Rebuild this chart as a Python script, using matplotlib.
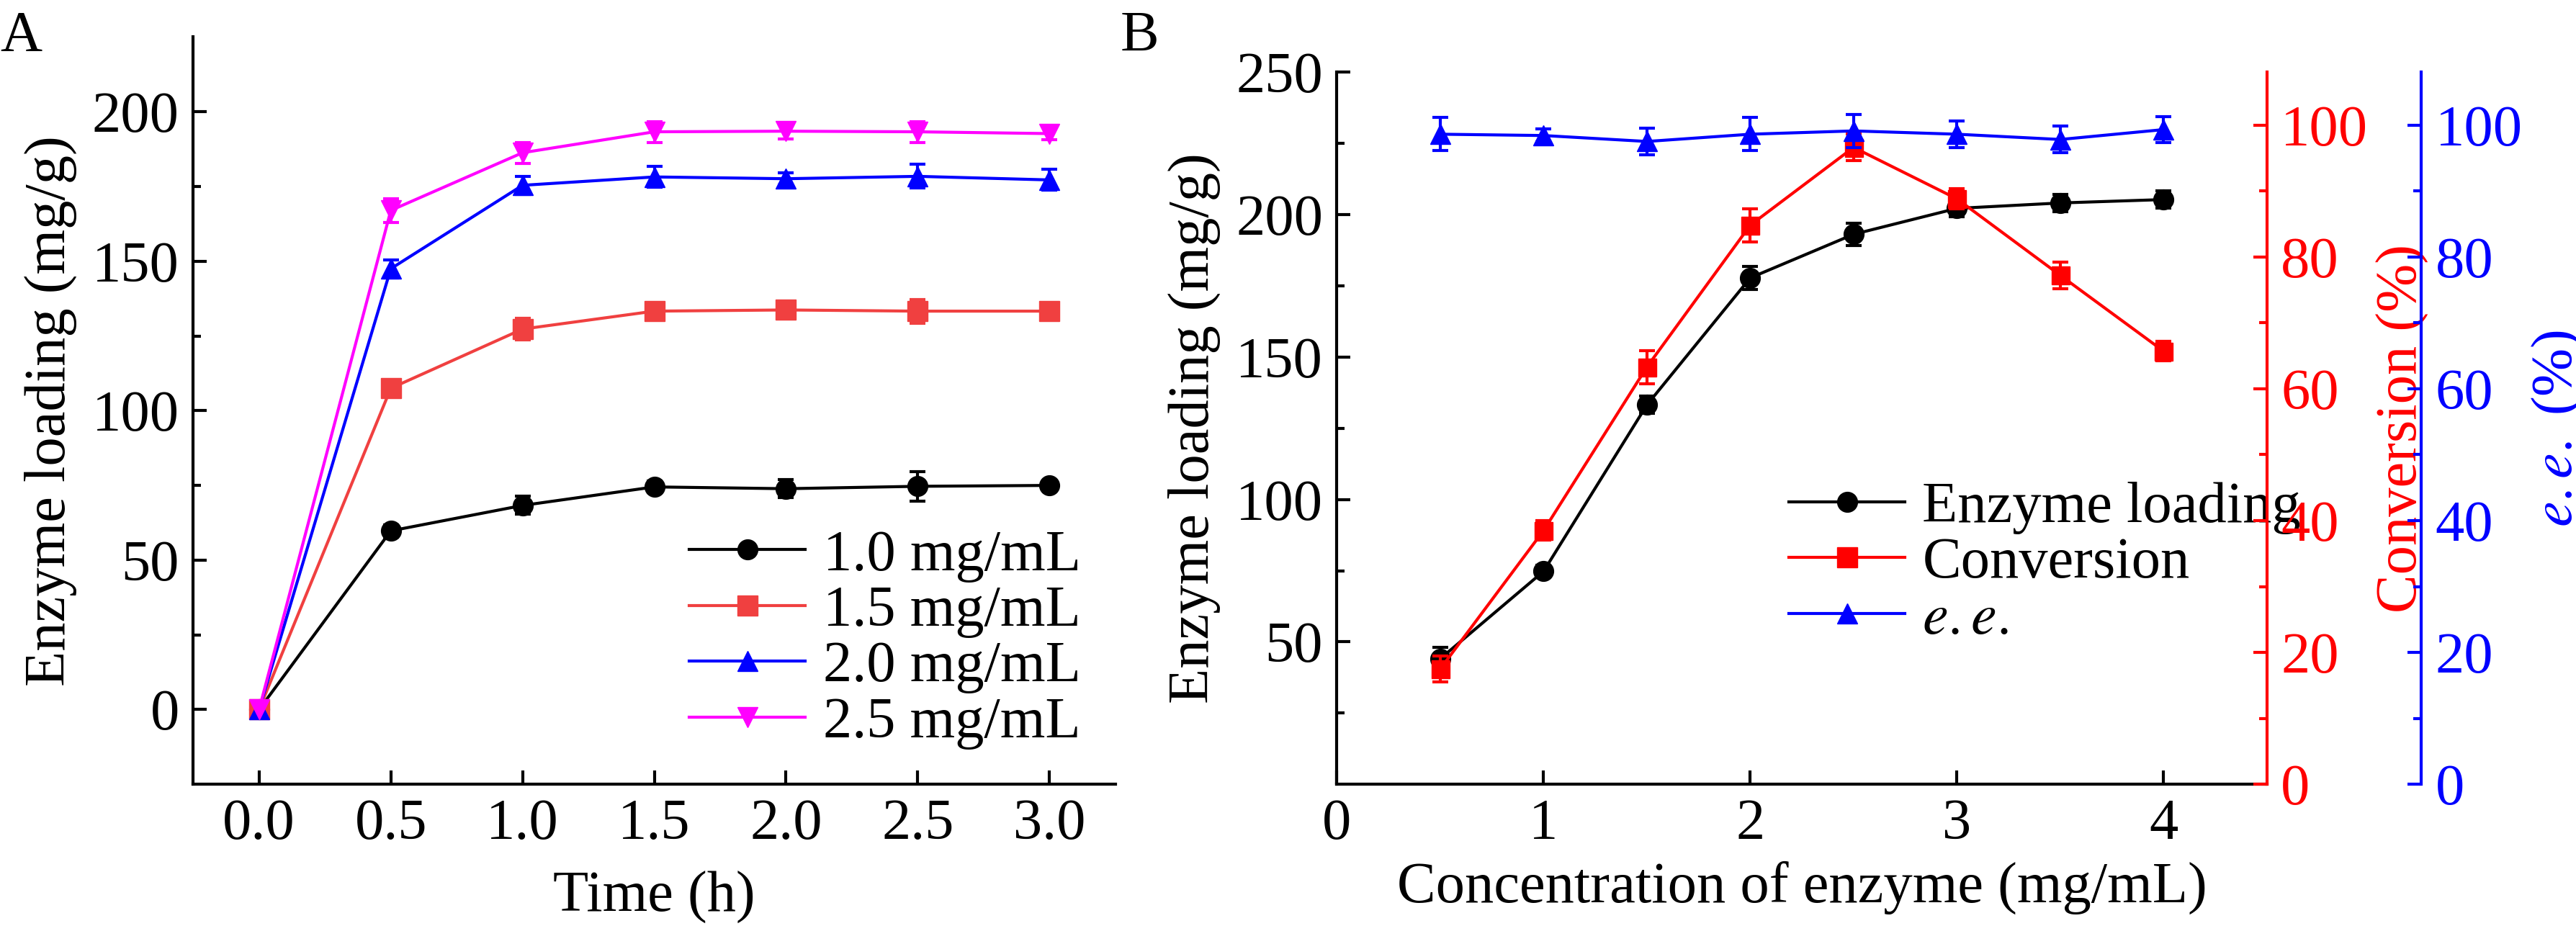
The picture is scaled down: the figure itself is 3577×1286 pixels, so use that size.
import matplotlib
matplotlib.use("Agg")
import matplotlib.pyplot as plt
from matplotlib.lines import Line2D

plt.rcParams["font.family"] = ["Liberation Serif", "DejaVu Serif"]
plt.rcParams["mathtext.fontset"] = "stix"

# ── Panel A data ──────────────────────────────────────────────────────────────
time_h = [0.0, 0.5, 1.0, 1.5, 2.0, 2.5, 3.0]
load_10 = [0, 59.8, 68.3, 74.5, 73.9, 74.7, 75.0]
load_15 = [0, 107.5, 127.3, 133.3, 133.7, 133.3, 133.3]
load_20 = [0, 147.5, 175.4, 178.2, 177.6, 178.4, 177.2]
load_25 = [0, 167.0, 186.3, 193.3, 193.5, 193.3, 192.7]
err_10 = [1, 2, 3, 2, 3, 5, 1.5]
err_15 = [1, 1.5, 3.5, 2, 2.5, 4, 2]
err_20 = [1, 3, 3, 3.5, 2, 4, 3.5]
err_25 = [1, 4, 3.5, 3.5, 2.5, 3.5, 2]

# ── Panel B data ──────────────────────────────────────────────────────────────
conc = [0.5, 1.0, 1.5, 2.0, 2.5, 3.0, 3.5, 4.0]
loading_b = [44.1, 74.8, 133.2, 177.8, 193.1, 202.2, 204.1, 205.3]
loading_b_err = [4, 2, 3, 4, 4, 3, 3, 3]
conversion = [17.5, 38.5, 63.3, 84.8, 96.6, 88.8, 77.2, 65.7]
conversion_err = [2, 1.5, 2.5, 2.5, 2, 1.5, 2, 1.5]
ee = [98.6, 98.4, 97.5, 98.6, 99.1, 98.6, 97.8, 99.3]
ee_err = [2.5, 1, 2, 2.5, 2.5, 2, 2, 2]

FS = 58


def handle(col, mk):
    return Line2D([], [], color=col, marker=mk, markersize=20, linewidth=3)


fig = plt.figure(figsize=(35.77, 12.86), dpi=100)

# ── Panel A ───────────────────────────────────────────────────────────────────
ax = fig.add_axes([0.075, 0.153, 0.358, 0.807])
series = [
    (load_10, err_10, "black", "o", "1.0 mg/mL"),
    (load_15, err_15, "#f04040", "s", "1.5 mg/mL"),
    (load_20, err_20, "blue", "^", "2.0 mg/mL"),
    (load_25, err_25, "magenta", "v", "2.5 mg/mL"),
]
for vals, errs, col, mk, lab in series:
    ax.errorbar(time_h, vals, yerr=errs, color=col, marker=mk, markersize=20,
                linewidth=3, elinewidth=3, capsize=8, capthick=3)
ax.set_xlim(-0.25, 3.25)
ax.set_ylim(-25, 225)
ax.set_xticks(time_h)
ax.set_xticklabels([f"{t:.1f}" for t in time_h])
ax.set_yticks([0, 50, 100, 150, 200])
ax.set_yticks([25, 75, 125, 175], minor=True)
ax.set_xlabel("Time (h)", fontsize=FS, labelpad=20)
ax.set_ylabel("Enzyme loading (mg/g)", fontsize=FS, labelpad=15)
ax.legend([handle(c, m) for _, _, c, m, _ in series], [s[4] for s in series],
          loc="lower right", frameon=False, fontsize=FS, handlelength=2,
          borderaxespad=0.2, labelspacing=0.05, handletextpad=0.3)
for s in ["top", "right"]:
    ax.spines[s].set_visible(False)
for s in ["left", "bottom"]:
    ax.spines[s].set_linewidth(3)
ax.tick_params(which="both", direction="in", width=3, labelsize=FS, pad=14)
ax.tick_params(which="major", length=14)
ax.tick_params(which="minor", length=8)
fig.text(0.0, 0.945, "A", fontsize=FS)

# ── Panel B ───────────────────────────────────────────────────────────────────
bx = fig.add_axes([0.519, 0.153, 0.361, 0.769])
rx = bx.twinx()
ex = bx.twinx()
ex.spines["right"].set_position(("axes", 1.166))

bx.errorbar(conc, loading_b, yerr=loading_b_err, color="black", marker="o",
            markersize=20, linewidth=3, elinewidth=3, capsize=8, capthick=3)
rx.errorbar(conc, conversion, yerr=conversion_err, color="red", marker="s",
            markersize=18, linewidth=3, elinewidth=3, capsize=8, capthick=3)
ex.errorbar(conc, ee, yerr=ee_err, color="blue", marker="^",
            markersize=20, linewidth=3, elinewidth=3, capsize=8, capthick=3)

bx.set_xlim(0, 4.5)
bx.set_ylim(0, 250)
bx.set_xticks([0, 1, 2, 3, 4])
bx.set_yticks([50, 100, 150, 200, 250])
bx.set_yticks([25, 75, 125, 175, 225], minor=True)
rx.set_ylim(0, 108)
ex.set_ylim(0, 108)
for a in (rx, ex):
    a.set_yticks([0, 20, 40, 60, 80, 100])
    a.set_yticks([10, 30, 50, 70, 90], minor=True)

bx.set_xlabel("Concentration of enzyme (mg/mL)", fontsize=FS, labelpad=10)
bx.set_ylabel("Enzyme loading (mg/g)", fontsize=FS, labelpad=15)
rx.set_ylabel("Conversion (%)", fontsize=FS, color="red", labelpad=8)
ex.set_ylabel("$e.e.$ (%)", fontsize=FS, color="blue", labelpad=8)

bx.spines["top"].set_visible(False)
for a in (rx, ex):
    a.spines["top"].set_visible(False)
    a.spines["left"].set_visible(False)
    a.spines["bottom"].set_visible(False)
bx.spines["right"].set_visible(False)
for s in ["left", "bottom"]:
    bx.spines[s].set_linewidth(3)
rx.spines["right"].set_linewidth(3)
rx.spines["right"].set_color("red")
ex.spines["right"].set_linewidth(3)
ex.spines["right"].set_color("blue")

for a, col in ((bx, "black"), (rx, "red"), (ex, "blue")):
    a.tick_params(which="both", direction="in", width=3, labelsize=FS,
                  colors=col, pad=14)
    a.tick_params(which="major", length=14)
    a.tick_params(which="minor", length=8)

bx.legend([handle("black", "o"), handle("red", "s"), handle("blue", "^")],
          ["Enzyme loading", "Conversion", "$e.e.$"],
          loc="center left", bbox_to_anchor=(0.43, 0.31), frameon=False,
          fontsize=FS, handlelength=2, labelspacing=0.05, handletextpad=0.3)
fig.text(0.435, 0.945, "B", fontsize=FS)

fig.savefig("out.png", dpi=100)
plt.close(fig)
